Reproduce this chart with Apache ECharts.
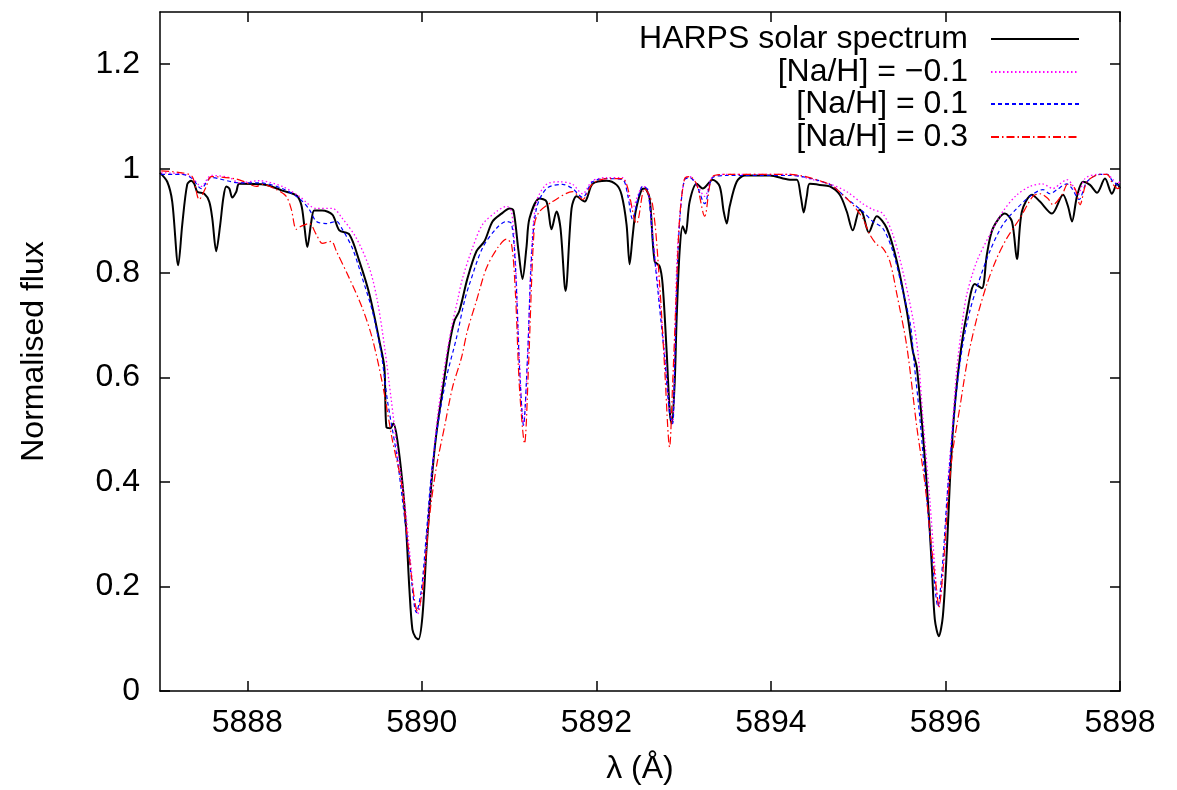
<!DOCTYPE html>
<html><head><meta charset="utf-8">
<script src="https://cdn.jsdelivr.net/npm/echarts@6/dist/echarts.min.js"></script>
<style>html,body{margin:0;padding:0;background:#fff}#c{width:1177px;height:790px}</style>
</head><body><div id="c"></div>
<script>
// ---- data ----
const xTicks = [5888, 5890, 5892, 5894, 5896, 5898];
const yTicks = [0, 0.2, 0.4, 0.6, 0.8, 1, 1.2];
const seriesNames = ['HARPS solar spectrum', '[Na/H] = \u22120.1', '[Na/H] = 0.1', '[Na/H] = 0.3'];

const harpsWave = [5887.000,5887.083,5887.140,5887.209,5887.255,5887.312,5887.358,5887.393,5887.427,5887.507,5887.564,5887.599,5887.644,5887.690,5887.725,5887.759,5887.794,5887.828,5887.874,5887.908,5888.218,5888.401,5888.562,5888.619,5888.654,5888.688,5888.734,5888.768,5888.860,5888.975,5889.055,5889.170,5889.284,5889.399,5889.514,5889.571,5889.594,5889.640,5889.674,5889.720,5889.778,5889.823,5889.858,5889.892,5889.927,5889.961,5890.007,5890.053,5890.110,5890.167,5890.259,5890.317,5890.374,5890.431,5890.523,5890.626,5890.718,5890.810,5890.913,5891.005,5891.050,5891.108,5891.154,5891.200,5891.234,5891.349,5891.429,5891.486,5891.543,5891.589,5891.647,5891.716,5891.773,5891.865,5891.957,5892.117,5892.232,5892.289,5892.346,5892.381,5892.415,5892.450,5892.518,5892.553,5892.610,5892.667,5892.725,5892.759,5892.805,5892.840,5892.863,5892.897,5892.920,5892.954,5892.989,5893.023,5893.069,5893.149,5893.218,5893.333,5893.413,5893.459,5893.494,5893.528,5893.608,5893.700,5893.987,5894.216,5894.297,5894.342,5894.376,5894.411,5894.445,5894.560,5894.675,5894.789,5894.869,5894.938,5895.018,5895.053,5895.122,5895.213,5895.328,5895.443,5895.557,5895.626,5895.672,5895.741,5895.798,5895.844,5895.878,5895.924,5895.970,5896.016,5896.050,5896.096,5896.165,5896.245,5896.337,5896.417,5896.475,5896.544,5896.681,5896.762,5896.819,5896.876,5896.991,5897.083,5897.220,5897.347,5897.404,5897.450,5897.507,5897.576,5897.656,5897.737,5897.828,5897.908,5897.966,5898.000];
const harpsFlux = [0.992,0.975,0.937,0.815,0.893,0.970,0.977,0.971,0.956,0.952,0.937,0.905,0.842,0.893,0.943,0.966,0.962,0.945,0.956,0.971,0.969,0.958,0.949,0.931,0.890,0.850,0.899,0.920,0.920,0.912,0.882,0.874,0.823,0.760,0.670,0.619,0.505,0.503,0.512,0.480,0.398,0.303,0.194,0.118,0.103,0.099,0.143,0.270,0.398,0.493,0.600,0.665,0.709,0.728,0.790,0.842,0.861,0.899,0.914,0.924,0.920,0.842,0.789,0.851,0.905,0.943,0.937,0.884,0.918,0.886,0.766,0.924,0.947,0.937,0.971,0.977,0.969,0.950,0.893,0.817,0.870,0.918,0.960,0.962,0.943,0.823,0.813,0.779,0.651,0.537,0.512,0.589,0.714,0.842,0.890,0.876,0.937,0.971,0.962,0.979,0.966,0.918,0.895,0.928,0.975,0.987,0.987,0.979,0.979,0.947,0.916,0.947,0.971,0.969,0.966,0.950,0.918,0.882,0.922,0.914,0.878,0.909,0.886,0.823,0.728,0.651,0.619,0.493,0.366,0.238,0.137,0.105,0.143,0.270,0.398,0.524,0.638,0.722,0.779,0.771,0.836,0.886,0.914,0.899,0.827,0.918,0.950,0.937,0.914,0.950,0.928,0.899,0.947,0.975,0.969,0.954,0.981,0.952,0.971,0.962];

const naMinusWave = [5887.014,5887.255,5887.369,5887.472,5887.587,5887.794,5887.908,5888.138,5888.401,5888.596,5888.791,5888.975,5889.089,5889.250,5889.399,5889.491,5889.571,5889.651,5889.720,5889.800,5889.858,5889.915,5889.950,5890.007,5890.064,5890.122,5890.179,5890.259,5890.339,5890.408,5890.466,5890.580,5890.695,5890.856,5890.970,5891.028,5891.073,5891.119,5891.165,5891.211,5891.257,5891.314,5891.429,5891.578,5891.727,5891.842,5891.956,5892.117,5892.300,5892.358,5892.415,5892.472,5892.530,5892.587,5892.644,5892.725,5892.782,5892.839,5892.874,5892.897,5892.920,5892.954,5893.011,5893.069,5893.149,5893.241,5893.333,5893.493,5894.216,5894.479,5894.674,5894.869,5895.053,5895.167,5895.282,5895.397,5895.511,5895.626,5895.683,5895.741,5895.821,5895.878,5895.924,5895.993,5896.028,5896.073,5896.131,5896.200,5896.245,5896.360,5896.509,5896.658,5896.819,5896.968,5897.106,5897.232,5897.312,5897.392,5897.450,5897.518,5897.599,5897.736,5897.851,5897.920,5897.966,5898.000];
const naMinusFlux = [0.992,0.990,0.983,0.966,0.987,0.983,0.973,0.977,0.966,0.947,0.924,0.924,0.905,0.867,0.810,0.747,0.661,0.556,0.461,0.366,0.270,0.175,0.147,0.194,0.303,0.429,0.524,0.619,0.695,0.747,0.790,0.848,0.893,0.918,0.928,0.918,0.823,0.632,0.509,0.632,0.842,0.937,0.970,0.975,0.970,0.952,0.977,0.983,0.983,0.956,0.924,0.947,0.966,0.962,0.874,0.747,0.651,0.537,0.512,0.651,0.810,0.905,0.981,0.985,0.970,0.947,0.985,0.989,0.989,0.979,0.971,0.956,0.933,0.922,0.914,0.874,0.804,0.714,0.651,0.524,0.366,0.238,0.162,0.270,0.398,0.493,0.619,0.714,0.760,0.823,0.874,0.918,0.950,0.966,0.971,0.962,0.971,0.979,0.970,0.950,0.981,0.989,0.989,0.979,0.971,0.975];

const naPlus1Wave = [5887.014,5887.255,5887.369,5887.472,5887.587,5887.908,5888.138,5888.401,5888.596,5888.711,5888.791,5888.906,5889.021,5889.089,5889.204,5889.319,5889.433,5889.514,5889.548,5889.606,5889.709,5889.778,5889.858,5889.938,5889.995,5890.053,5890.110,5890.179,5890.282,5890.397,5890.489,5890.546,5890.695,5890.856,5890.970,5891.028,5891.073,5891.119,5891.165,5891.211,5891.257,5891.314,5891.429,5891.612,5891.727,5891.842,5891.956,5892.117,5892.300,5892.358,5892.415,5892.472,5892.530,5892.587,5892.644,5892.725,5892.782,5892.839,5892.874,5892.897,5892.931,5892.966,5893.011,5893.069,5893.149,5893.241,5893.333,5893.493,5894.216,5894.674,5894.869,5895.053,5895.167,5895.282,5895.397,5895.511,5895.600,5895.640,5895.706,5895.787,5895.856,5895.913,5895.970,5896.016,5896.073,5896.131,5896.200,5896.280,5896.372,5896.509,5896.658,5896.819,5896.968,5897.117,5897.197,5897.278,5897.392,5897.450,5897.530,5897.622,5897.771,5897.851,5897.920,5898.000];
const naPlus1Flux = [0.989,0.989,0.981,0.962,0.983,0.973,0.973,0.962,0.943,0.922,0.899,0.895,0.899,0.884,0.848,0.790,0.728,0.665,0.632,0.556,0.455,0.366,0.251,0.150,0.194,0.303,0.417,0.505,0.600,0.676,0.747,0.779,0.848,0.886,0.899,0.895,0.810,0.620,0.509,0.640,0.830,0.924,0.962,0.970,0.962,0.945,0.975,0.981,0.979,0.950,0.903,0.940,0.966,0.960,0.867,0.733,0.638,0.531,0.512,0.620,0.823,0.924,0.979,0.983,0.968,0.933,0.983,0.987,0.987,0.970,0.943,0.918,0.899,0.886,0.842,0.766,0.700,0.630,0.524,0.366,0.238,0.162,0.251,0.366,0.480,0.581,0.665,0.728,0.779,0.842,0.893,0.924,0.947,0.960,0.952,0.960,0.971,0.962,0.941,0.975,0.989,0.989,0.975,0.966];

const naPlus3Wave = [5887.014,5887.255,5887.369,5887.450,5887.530,5887.587,5887.851,5887.966,5888.103,5888.172,5888.333,5888.447,5888.505,5888.562,5888.619,5888.711,5888.791,5888.861,5888.963,5889.021,5889.170,5889.319,5889.433,5889.548,5889.663,5889.766,5889.835,5889.915,5889.950,5890.007,5890.087,5890.167,5890.259,5890.351,5890.454,5890.523,5890.626,5890.741,5890.867,5890.970,5891.028,5891.073,5891.119,5891.177,5891.222,5891.291,5891.349,5891.498,5891.727,5891.842,5891.956,5892.117,5892.300,5892.461,5892.553,5892.644,5892.725,5892.782,5892.839,5892.874,5892.920,5892.954,5893.011,5893.069,5893.149,5893.241,5893.333,5893.493,5894.216,5894.674,5894.823,5894.938,5895.053,5895.133,5895.213,5895.282,5895.362,5895.443,5895.557,5895.672,5895.764,5895.844,5895.901,5895.924,5895.970,5896.028,5896.085,5896.165,5896.257,5896.360,5896.475,5896.589,5896.704,5896.853,5897.002,5897.083,5897.174,5897.232,5897.335,5897.404,5897.484,5897.541,5897.622,5897.771,5897.851,5897.920,5897.977,5898.000];
const naPlus3Flux = [0.996,0.992,0.985,0.941,0.966,0.985,0.981,0.975,0.966,0.970,0.960,0.947,0.922,0.884,0.890,0.895,0.874,0.857,0.861,0.842,0.790,0.733,0.675,0.589,0.480,0.398,0.290,0.175,0.152,0.194,0.333,0.429,0.505,0.581,0.638,0.690,0.747,0.810,0.848,0.865,0.855,0.760,0.580,0.474,0.620,0.893,0.918,0.937,0.956,0.941,0.971,0.981,0.981,0.895,0.962,0.931,0.779,0.619,0.467,0.589,0.779,0.905,0.981,0.985,0.970,0.909,0.985,0.989,0.989,0.970,0.950,0.931,0.905,0.874,0.855,0.848,0.823,0.760,0.660,0.505,0.398,0.270,0.189,0.160,0.227,0.366,0.461,0.543,0.638,0.714,0.779,0.829,0.867,0.905,0.947,0.952,0.943,0.931,0.950,0.971,0.962,0.931,0.975,0.989,0.989,0.970,0.962,0.965];

// ---- chart ----
const FONT = '"Liberation Sans", Arial, Helvetica, sans-serif';
const pairs = (w, f) => w.map((x, i) => [x, f[i]]);
const styles = [
  {color: '#000000', width: 2, type: 'solid'},
  {color: '#ff00ff', width: 1.3, type: [1.5, 2.5]},
  {color: '#0000ff', width: 1.2, type: [4, 3]},
  {color: '#ff0000', width: 1.2, type: [8, 3, 1.5, 3]}
];
const waves = [harpsWave, naMinusWave, naPlus1Wave, naPlus3Wave];
const fluxes = [harpsFlux, naMinusFlux, naPlus1Flux, naPlus3Flux];
const legendTops = [23, 56, 88, 121];

const chart = echarts.init(document.getElementById('c'), null, {renderer: 'canvas'});
const axisCommon = {
  axisLine: {show: true, onZero: false, lineStyle: {color: '#000', width: 1.5}},
  axisTick: {show: true, inside: true, length: 10, lineStyle: {color: '#000', width: 1.5}},
  splitLine: {show: false}
};
chart.setOption({
  animation: false,
  backgroundColor: '#fff',
  textStyle: {fontFamily: FONT},
  grid: {left: 160, right: 57, top: 12, bottom: 98, containLabel: false},
  xAxis: [
    Object.assign({}, axisCommon, {
      type: 'value', position: 'bottom', min: 5887, max: 5898,
      axisTick: Object.assign({}, axisCommon.axisTick, {customValues: xTicks}),
      axisLabel: {customValues: xTicks, formatter: v => String(v), fontSize: 32, fontFamily: FONT, color: '#000', margin: 16},
      name: '\u03bb (\u00c5)', nameLocation: 'middle', nameGap: 62,
      nameTextStyle: {fontSize: 32, fontFamily: FONT, color: '#000'}
    }),
    Object.assign({}, axisCommon, {
      type: 'value', position: 'top', min: 5887, max: 5898,
      axisTick: Object.assign({}, axisCommon.axisTick, {customValues: xTicks}),
      axisLabel: {show: false}
    })
  ],
  yAxis: [
    Object.assign({}, axisCommon, {
      type: 'value', position: 'left', min: 0, max: 1.3,
      axisTick: Object.assign({}, axisCommon.axisTick, {customValues: yTicks}),
      axisLabel: {customValues: yTicks, formatter: v => String(v), fontSize: 32, fontFamily: FONT, color: '#000', margin: 20},
      name: 'Normalised flux', nameLocation: 'middle', nameGap: 110, nameRotate: 90,
      nameTextStyle: {fontSize: 32, fontFamily: FONT, color: '#000'}
    }),
    Object.assign({}, axisCommon, {
      type: 'value', position: 'right', min: 0, max: 1.3,
      axisTick: Object.assign({}, axisCommon.axisTick, {customValues: yTicks}),
      axisLabel: {show: false}
    })
  ],
  legend: seriesNames.map((n, i) => ({
    data: [n], orient: 'vertical', align: 'right', right: 97, top: legendTops[i],
    padding: 0, itemWidth: 88, itemHeight: 12, selectedMode: false,
    itemStyle: {opacity: 0, borderWidth: 0},
    textStyle: {fontSize: 32, fontFamily: FONT, color: '#000', padding: [0, 18, 0, 0]}
  })),
  series: seriesNames.map((n, i) => ({
    name: n, type: 'line', xAxisIndex: 0, yAxisIndex: 0,
    data: pairs(waves[i], fluxes[i]),
    showSymbol: false, symbol: 'none', smooth: 0.3,
    lineStyle: styles[i], itemStyle: {color: styles[i].color},
    emphasis: {disabled: true}, z: 2 + i
  }))
});
</script></body></html>
